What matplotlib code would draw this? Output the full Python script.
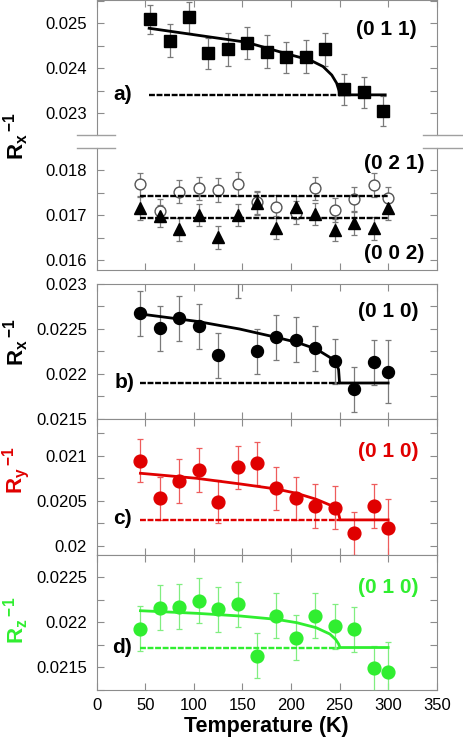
import matplotlib
matplotlib.use('Agg')
import matplotlib.pyplot as plt
from matplotlib.ticker import MultipleLocator, FuncFormatter
from matplotlib.lines import Line2D

plt.rcParams['font.family'] = ['Liberation Sans', 'DejaVu Sans']
plt.rcParams['mathtext.fontset'] = 'custom'
plt.rcParams['mathtext.bf'] = 'Liberation Sans:bold'
plt.rcParams['mathtext.rm'] = 'Liberation Sans'
plt.rcParams['mathtext.it'] = 'Liberation Sans:italic'

# ---------------- data ----------------
temps_a = [55, 75, 95, 115, 135, 155, 175, 195, 215, 235, 255, 275, 295]
rx_011 = [0.025089, 0.024614, 0.025133, 0.024333, 0.024422, 0.024569, 0.024369,
          0.024244, 0.024258, 0.024422, 0.023533, 0.023467, 0.023051]
err_011 = [0.00032, 0.00037, 0.00034, 0.00035, 0.00036, 0.00036, 0.00037,
           0.00035, 0.00037, 0.00036, 0.00035, 0.00034, 0.00034]

temps = [45, 65, 85, 105, 125, 145, 165, 185, 205, 225, 245, 265, 285, 300]
rx_021 = [0.017681, 0.017096, 0.017519, 0.017593, 0.017556, 0.017689, 0.017281,
          0.017185, 0.017052, 0.017593, 0.017111, 0.017356, 0.017667, 0.01737]
err_021 = [0.00026] * 14
rx_002 = [0.017148, 0.016978, 0.016681, 0.017, 0.016504, 0.017, 0.017259,
          0.016719, 0.01717, 0.017022, 0.016667, 0.016815, 0.016704, 0.017148]
err_002 = [0.00025] * 14

rx_010 = [0.022674, 0.022507, 0.022622, 0.02253, 0.022211, 0.0231, 0.022252,
          0.022407, 0.022381, 0.022285, 0.022144, 0.021833, 0.02213, 0.022026]
err_rx010 = [0.00025] * 13 + [0.00035]
ry_010 = [0.020948, 0.02053, 0.020722, 0.020844, 0.020493, 0.020874, 0.020919,
          0.020641, 0.02053, 0.020444, 0.020426, 0.020141, 0.020444, 0.020196]
err_ry010 = [0.00024] * 13 + [0.00033]
rz_010 = [0.021926, 0.022163, 0.022174, 0.022237, 0.022144, 0.0222, 0.021626,
          0.022074, 0.021829, 0.022074, 0.021959, 0.021922, 0.021489, 0.021444]
err_rz010 = [0.00025] * 13 + [0.00034]

# fit curves
fit_a_T = [54, 154, 196, 220, 233, 242, 247, 249.5, 250, 297]
fit_a_v = [0.02489, 0.02458, 0.02432, 0.02418, 0.02404, 0.02385, 0.02367, 0.0235, 0.02341, 0.02341]
base_a_T = [54, 250]; base_a = 0.02341

fit_b_T = [45, 103, 147, 185, 206, 226, 240, 247, 249, 250, 300]
fit_b_v = [0.022667, 0.022585, 0.0225, 0.022407, 0.022352, 0.022278, 0.022185, 0.02211, 0.02205, 0.0219, 0.0219]
base_b_T = [45, 250]; base_b = 0.0219

fit_c_T = [45, 103, 148, 185, 206, 226, 240, 247, 249, 250.5, 300]
fit_c_v = [0.020808, 0.020752, 0.020689, 0.020633, 0.020585, 0.020519, 0.020456, 0.0204, 0.02036, 0.02029, 0.02029]
base_c_T = [45, 250]; base_c = 0.02029

fit_d_T = [45, 103, 148, 185, 206, 226, 240, 246, 249, 250.5, 300]
fit_d_v = [0.022129, 0.0221, 0.02207, 0.022033, 0.021996, 0.02194, 0.02187, 0.02181, 0.02176, 0.02172, 0.02172]
base_d_T = [45, 250]; base_d = 0.02172

base_021_T = [45, 300]; base_021 = 0.017422
base_002_T = [45, 300]; base_002 = 0.016926

# ---------------- figure ----------------
W, H = 463, 741
fig = plt.figure(figsize=(W / 100, H / 100), dpi=100)
XL, XR = 96.7, 436.7
SPINE = '#8c8c8c'


def rect(top, bottom):
    return [XL / W, 1 - bottom / H, (XR - XL) / W, (bottom - top) / H]


def style(ax, ylim, major, minor, xlabels=False, top=True, bottom=True):
    ax.set_xlim(0, 350)
    ax.set_ylim(*ylim)
    ax.xaxis.set_major_locator(MultipleLocator(50))
    ax.yaxis.set_major_locator(MultipleLocator(major))
    ax.yaxis.set_minor_locator(MultipleLocator(minor))
    ax.yaxis.set_major_formatter(FuncFormatter(lambda v, p: '%g' % round(v, 6)))
    ax.tick_params(which='both', direction='in', length=5, width=0.8, color=SPINE,
                   top=top, bottom=bottom, left=True, right=True, labelsize=12)
    ax.tick_params(axis='y', pad=7)
    ax.tick_params(axis='x', pad=6)
    if not xlabels:
        ax.tick_params(axis='x', labelbottom=False)
    for s in ax.spines.values():
        s.set_color(SPINE)
        s.set_linewidth(0.8)


def data(ax, T, v, e, color, ecolor, marker, ms, mfc=None, mec=None):
    ax.errorbar(T, v, yerr=e, fmt=marker, color=color, ms=ms,
                mfc=mfc if mfc else color, mec=mec if mec else color,
                ecolor=ecolor, elinewidth=0.9, capsize=2.2, capthick=0.9, zorder=3)


DASH = (0, (2.5, 0.7))


def fit(ax, fT, fv, bT, bv, color):
    ax.plot(fT, fv, '-', color=color, lw=2.0, zorder=4)
    ax.plot(bT, [bv, bv], color=color, lw=1.7, ls=DASH, zorder=4)


bold = dict(fontweight='bold', fontsize=15, ha='center', va='center')

# panel a upper
axa = fig.add_axes(rect(0, 135))
style(axa, (0.022518, 0.025518), 0.001, 0.0005, bottom=False)
axa.spines['bottom'].set_visible(False)
data(axa, temps_a, rx_011, err_011, 'black', '#7a7a7a', 's', 9)
fit(axa, fit_a_T, fit_a_v, base_a_T, base_a, 'black')
axa.text(298, 0.02486, '(0 1 1)', **bold)
axa.text(26.6, 0.023407, 'a)', **bold)

# panel a lower
axl = fig.add_axes(rect(148, 270))
style(axl, (0.015778, 0.018489), 0.001, 0.0005, top=False)
axl.spines['top'].set_visible(False)
data(axl, temps, rx_021, err_021, '#555555', '#7a7a7a', 'o', 7.8, mfc='white', mec='#555555')
data(axl, temps, rx_002, err_002, 'black', '#7a7a7a', '^', 8)
axl.plot(base_021_T, [base_021, base_021], color='black', lw=1.7, ls=DASH, zorder=4)
axl.plot(base_002_T, [base_002, base_002], color='black', lw=1.7, ls=DASH, zorder=4)
axl.text(306, 0.018144, '(0 2 1)', **bold)
axl.text(306, 0.016144, '(0 0 2)', **bold)

# break marks
for yy in (135, 148):
    for x0, x1 in ((77, 115), (423, 463)):
        fig.add_artist(Line2D([x0 / W, x1 / W], [1 - yy / H, 1 - yy / H],
                              color='#a0a0a0', lw=1.0))

# panel b
axb = fig.add_axes(rect(284, 419))
style(axb, (0.0215, 0.023), 0.0005, 0.00025)
data(axb, temps, rx_010, err_rx010, 'black', '#7a7a7a', 'o', 8.6)
fit(axb, fit_b_T, fit_b_v, base_b_T, base_b, 'black')
axb.text(300, 0.022694, '(0 1 0)', **bold)
axb.text(29, 0.021903, 'b)', **bold)

# panel c
RED = '#e00000'
axc = fig.add_axes(rect(419, 555))
style(axc, (0.0199, 0.021411), 0.0005, 0.00025)
data(axc, temps, ry_010, err_ry010, RED, '#ee5c5c', 'o', 9.2)
fit(axc, fit_c_T, fit_c_v, base_c_T, base_c, RED)
axc.text(300, 0.02105, '(0 1 0)', color=RED, **bold)
axc.text(26.6, 0.020306, 'c)', **bold)

# panel d
GREEN = '#30ee30'
axd = fig.add_axes(rect(555, 690))
style(axd, (0.021248, 0.022748), 0.0005, 0.00025, xlabels=True)
data(axd, temps, rz_010, err_rz010, GREEN, '#80ee80', 'o', 9.2)
fit(axd, fit_d_T, fit_d_v, base_d_T, base_d, GREEN)
axd.text(300, 0.022392, '(0 1 0)', color=GREEN, **bold)
axd.text(26, 0.02172, 'd)', **bold)
axd.set_xlabel('Temperature (K)', fontsize=15.5, fontweight='bold', labelpad=2)


# y labels
def ylab(yc, sub, color, subsize=None):
    s = r'$\mathbf{R}_{\mathbf{%s}}\,{}^{\mathbf{-1}}$' % sub
    fig.text(16 / W, 1 - yc / H, s, rotation=90, ha='center', va='center',
             fontsize=16, color=color)


ylab(136, 'x', 'black')
ylab(342, 'x', 'black')
ylab(470, 'y', RED)
ylab(620, 'z', GREEN)

fig.savefig('out.png', dpi=100)
